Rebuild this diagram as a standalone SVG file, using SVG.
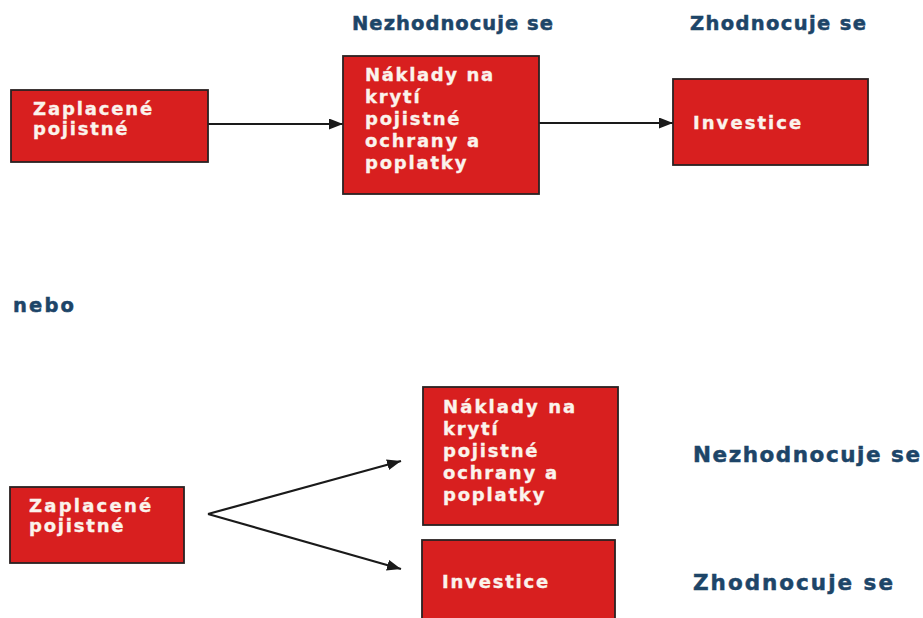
<svg xmlns="http://www.w3.org/2000/svg" width="923" height="618" viewBox="0 0 923 618">
<defs>
<style>
.box{fill:#d81f1f;stroke:#2a2222;stroke-width:1.8}
.bt{font-family:"DejaVu Sans",Verdana,sans-serif;font-weight:bold;font-size:18px;fill:#fbf3ec;letter-spacing:1.8px;stroke:#fbf3ec;stroke-width:0.35}
.hd{font-family:"DejaVu Sans",Verdana,sans-serif;font-weight:bold;fill:#1d4568;stroke:#1d4568;stroke-width:0.5}
.edge{stroke:#1a1a1a;stroke-width:2.2;fill:none}
</style>
<marker id="arr" viewBox="0 0 14 11" refX="14" refY="5.5" markerWidth="14" markerHeight="11" markerUnits="userSpaceOnUse" orient="auto">
<path d="M0,0 L14,5.5 L0,11 Z" fill="#1a1a1a"/>
</marker>
</defs>
<rect width="923" height="618" fill="#ffffff"/>

<g id="labels">
<text class="hd" x="352" y="30" font-size="19.5" textLength="201" lengthAdjust="spacing">Nezhodnocuje se</text>
<text class="hd" x="690" y="30" font-size="19.5" textLength="176" lengthAdjust="spacing">Zhodnocuje se</text>
<text class="hd" x="13" y="312" font-size="19.5" textLength="61" lengthAdjust="spacing">nebo</text>
<text class="hd" x="693" y="462" font-size="21.5" textLength="227" lengthAdjust="spacing">Nezhodnocuje se</text>
<text class="hd" x="693" y="590" font-size="21.5" textLength="200" lengthAdjust="spacing">Zhodnocuje se</text>
</g>

<g id="connectors">
<line class="edge" x1="208" y1="124" x2="343" y2="124" marker-end="url(#arr)"/>
<line class="edge" x1="539" y1="123" x2="673" y2="123" marker-end="url(#arr)"/>
<line class="edge" x1="208" y1="514" x2="401" y2="461" marker-end="url(#arr)"/>
<line class="edge" x1="208" y1="514" x2="401" y2="569" marker-end="url(#arr)"/>
</g>

<g id="n1">
<rect class="box" x="11" y="90" width="197" height="72"/>
<text class="bt" x="33" y="115" textLength="121" lengthAdjust="spacing">Zaplacené</text>
<text class="bt" x="33" y="135">pojistné</text>
</g>

<g id="n2">
<rect class="box" x="343" y="56" width="196" height="138"/>
<text class="bt" x="365" y="81" textLength="130" lengthAdjust="spacing">Náklady na</text>
<text class="bt" x="365" y="103">krytí</text>
<text class="bt" x="365" y="125">pojistné</text>
<text class="bt" x="365" y="147">ochrany a</text>
<text class="bt" x="365" y="169">poplatky</text>
</g>

<g id="n3">
<rect class="box" x="673" y="79" width="195" height="86"/>
<text class="bt" x="693" y="129" textLength="110" lengthAdjust="spacing">Investice</text>
</g>

<g id="n4">
<rect class="box" x="10" y="487" width="174" height="76"/>
<text class="bt" x="29" y="512" textLength="124" lengthAdjust="spacing">Zaplacené</text>
<text class="bt" x="29" y="532">pojistné</text>
</g>

<g id="n5">
<rect class="box" x="423" y="387" width="195" height="138"/>
<text class="bt" x="443" y="413" textLength="134" lengthAdjust="spacing">Náklady na</text>
<text class="bt" x="443" y="435">krytí</text>
<text class="bt" x="443" y="457">pojistné</text>
<text class="bt" x="443" y="479">ochrany a</text>
<text class="bt" x="443" y="501">poplatky</text>
</g>

<g id="n6">
<rect class="box" x="422" y="540" width="193" height="90"/>
<text class="bt" x="442" y="588" textLength="108" lengthAdjust="spacing">Investice</text>
</g>
</svg>
